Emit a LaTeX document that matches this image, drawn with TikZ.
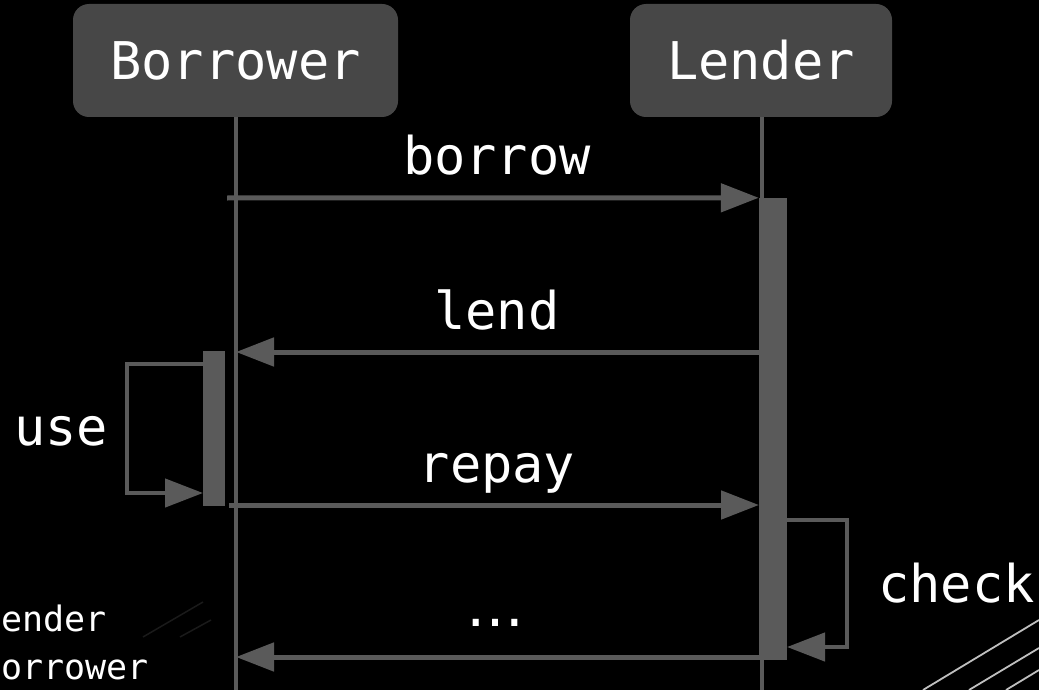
\documentclass[tikz,border=0pt]{standalone}
\usepackage{fontspec}
\setmonofont{DejaVu Sans Mono}
\newfontfamily\dvsans{DejaVu Sans}
\usetikzlibrary{arrows.meta}
\definecolor{boxfill}{HTML}{474747}
\definecolor{linegray}{HTML}{5A5A5A}
\definecolor{faint}{HTML}{1A1A1A}
\begin{document}
\begin{tikzpicture}[x=1pt,y=-1pt,
  actor/.style={fill=boxfill, draw=none, rounded corners=16pt, minimum height=113pt,
    inner sep=0pt, text=white, font=\ttfamily\fontsize{52}{60}\selectfont},
  life/.style={draw=linegray, line width=4.8pt},
  actbar/.style={fill=linegray, draw=none, inner sep=0pt},
  msg/.style={draw=linegray, line width=5pt, -{Triangle[length=38pt,width=28pt]}},
  selfmsg/.style={draw=linegray, line width=4.5pt, -{Triangle[length=38pt,width=28pt]}},
  lbl/.style={text=white, anchor=base, inner sep=0pt, font=\ttfamily\fontsize{52}{60}\selectfont},
  smalllbl/.style={text=white, anchor=base west, inner sep=0pt, font=\ttfamily\fontsize{35}{40}\selectfont},
  deco/.style={draw=white!75!black, line width=1.8pt},
  fdeco/.style={draw=faint, line width=1.5pt}]
\fill[black] (0,0) rectangle (1039,690);
\useasboundingbox (0,0) rectangle (1039,690);

% actors
\node[actor, minimum width=325pt] (borrower) at (235.5,60.5) {Borrower};
\node[actor, minimum width=262pt] (lender) at (761,60.5) {Lender};

% lifelines
\coordinate (bbot) at (236,690);
\coordinate (lbot) at (762,690);
\draw[life] (borrower.south -| bbot) -- (bbot);
\draw[life] (lender.south -| lbot) -- (lbot);

% activation bars
\node[actbar, minimum width=22pt, minimum height=155pt] (ubar) at (214,428.5) {};
\node[actbar, minimum width=28pt, minimum height=462pt] (lbar) at (773,429) {};

% messages
\coordinate (b1) at (227,198);
\draw[msg] (b1) -- (lbar.north west);
\node[lbl] (tborrow) at (497,175) {borrow};

\coordinate (l1) at (759,352);
\coordinate (l2) at (236,352);
\draw[msg] (l1) -- (l2);
\node[lbl] (tlend) at (497,329) {lend};

\coordinate (r1) at (229,505);
\coordinate (r2) at (759,505);
\draw[msg] (r1) -- (r2);
\node[lbl] (trepay) at (497,482) {repay};

\coordinate (d1) at (759,657);
\coordinate (d2) at (236,657);
\draw[msg] (d1) -- (d2);
\node[text=white, anchor=base, inner sep=0pt, font=\dvsans\fontsize{58}{60}\selectfont] (tdots) at (495,626) {…};

% self message: use
\coordinate (u1) at (203,364);
\coordinate (u2) at (203,493);
\draw[selfmsg] (u1) -- (127,364) -- (127,493) -- (u2);
\node[lbl, anchor=base west] (tuse) at (14,445) {use};

% self message: check
\coordinate (c1) at (787,520);
\coordinate (c2) at (787,647);
\draw[selfmsg] (c1) -- (847,520) -- (847,647) -- (c2);
\node[lbl, anchor=base west] (tcheck) at (878,602) {check};

% cut-off legend text
\node[smalllbl] (tlender) at (1,631) {ender};
\node[smalllbl] (tborrower) at (1,679) {orrower};

% decorative strokes
\draw[fdeco] (143,637) -- (203,602);
\draw[fdeco] (180,637) -- (211,620);
\draw[deco] (923,690) -- (1039,620);
\draw[deco] (969,690) -- (1039,648);
\draw[deco] (1006,690) -- (1039,670);
\end{tikzpicture}
\end{document}
